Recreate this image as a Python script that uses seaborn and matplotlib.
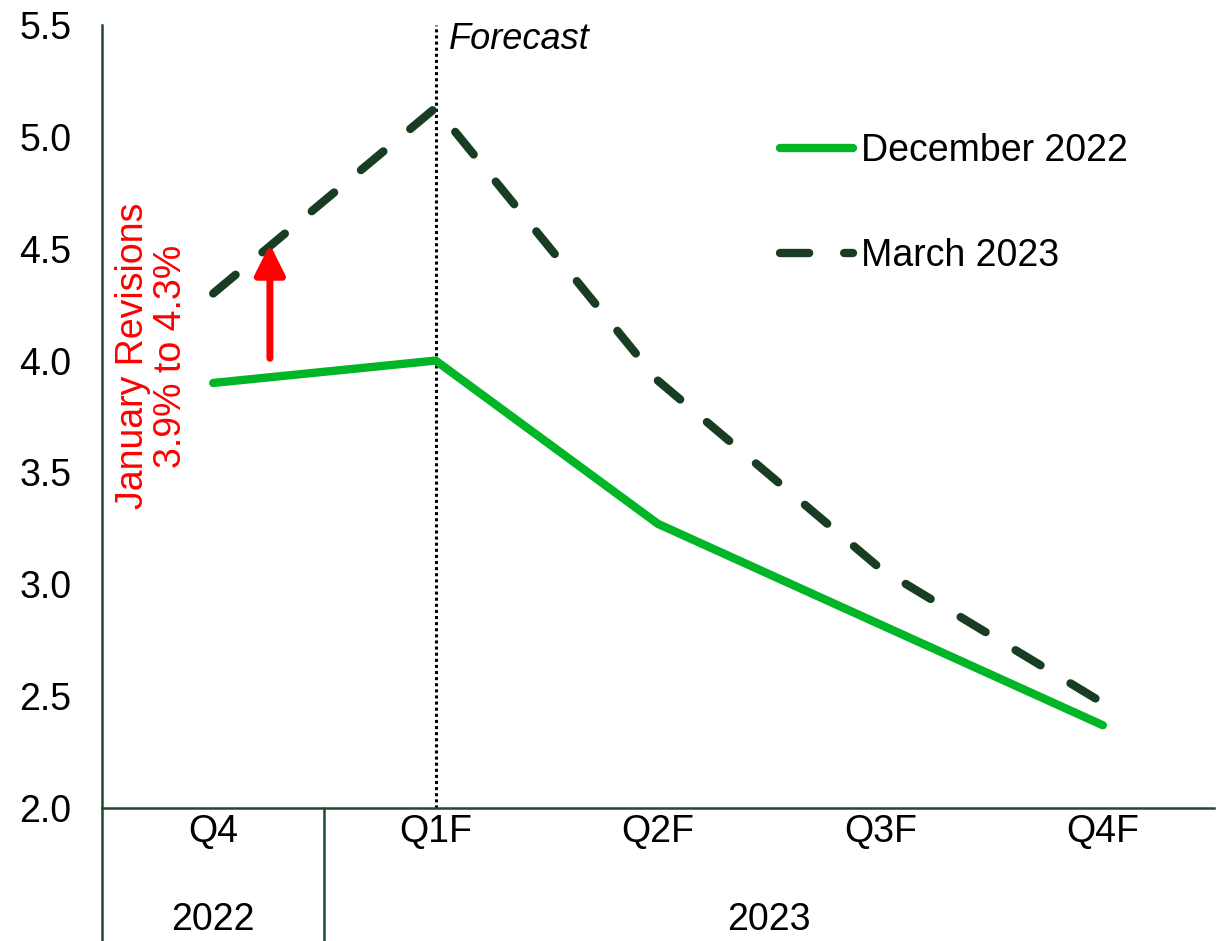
import matplotlib
matplotlib.use("Agg")
import matplotlib.pyplot as plt
import matplotlib.transforms as mtransforms
import seaborn as sns
import pandas as pd

# Quarterly growth path, two forecast vintages
quarters = ["Q4", "Q1F", "Q2F", "Q3F", "Q4F"]
year_groups = ["2022", "2023"]
year_spans = [(0, 0), (1, 4)]          # first and last quarter index in each year
dec_2022 = [3.9, 4.0, 3.27, 2.82, 2.37]
mar_2023 = [4.3, 5.13, 3.91, 3.07, 2.47]
series_names = ["December 2022", "March 2023"]
y_ticks = [2.0, 2.5, 3.0, 3.5, 4.0, 4.5, 5.0, 5.5]

sns.set_theme(style="white")
plt.rcParams["font.family"] = ["Liberation Sans", "DejaVu Sans"]
plt.rcParams["text.color"] = "black"

LIGHT = "#00B526"
DARK = "#183D22"
AXIS = "#1F4A2C"
FS = 27

df = pd.DataFrame({
    "quarter": quarters * 2,
    "value": dec_2022 + mar_2023,
    "series": [series_names[0]] * len(quarters) + [series_names[1]] * len(quarters),
})

W, H = 1226, 941
fig = plt.figure(figsize=(W / 100, H / 100), dpi=100)
ax = fig.add_axes([102 / W, 1 - 808 / H, (1214 - 102) / W, (808 - 25) / H])

sns.lineplot(
    data=df, x="quarter", y="value", hue="series", style="series",
    palette={series_names[0]: LIGHT, series_names[1]: DARK},
    dashes={series_names[0]: "", series_names[1]: (3.5, 4.2)},
    linewidth=6, sort=False, ax=ax, legend=True,
)
for ln in ax.get_lines():
    ln.set_dash_capstyle("round")
    ln.set_solid_capstyle("round")
    ln.set_solid_joinstyle("miter")

ax.set_xlim(-0.5, len(quarters) - 0.5)
ax.set_ylim(2.0, 5.5)
ax.set_yticks(y_ticks)
ax.set_yticklabels([f"{v:.1f}" for v in y_ticks])
ax.set_xlabel("")
ax.set_ylabel("")
ax.tick_params(axis="y", length=0, pad=22, labelsize=FS, colors="black")
ax.tick_params(axis="x", length=0, pad=4, labelsize=FS, colors="black")

for side in ["top", "right"]:
    ax.spines[side].set_visible(False)
for side in ["left", "bottom"]:
    ax.spines[side].set_color(AXIS)
    ax.spines[side].set_linewidth(1.8)

# Forecast divider
ax.axvline(1, color="black", linestyle=(0, (1, 1)), linewidth=2.2, zorder=1)
ax.text(1.06, 5.435, "Forecast", fontsize=FS - 1, style="italic",
        ha="left", va="center", color="black")

# Revision arrow and note
ax.annotate("", xy=(0.255, 4.52), xytext=(0.255, 4.01),
            arrowprops=dict(arrowstyle="-|>,head_length=0.7,head_width=0.35",
                            color="#FF0000", lw=5, mutation_scale=26,
                            shrinkA=0, shrinkB=0))
ax.text(-0.275, 4.02, "January Revisions\n3.9% to 4.3%", rotation=90,
        color="#FF0000", fontsize=FS, ha="center", va="center",
        multialignment="center", linespacing=1.05)

# Year row beneath the quarter labels, with separators
trans = mtransforms.blended_transform_factory(ax.transData, ax.transAxes)
bottom = -(H - 808) / (808 - 25) - 0.01
for (a, b) in [(-0.5, -0.5), (0.5, 0.5)]:
    ax.plot([a, b], [0, bottom], transform=trans, color=AXIS,
            linewidth=1.8, clip_on=False)
for label, (i0, i1) in zip(year_groups, year_spans):
    ax.text((i0 + i1) / 2, -112 / 783, label, transform=trans,
            fontsize=FS, ha="center", va="center", color="black")

# Legend
handles, labels = ax.get_legend_handles_labels()
for h in handles:
    h.set_dash_capstyle("round")
    h.set_solid_capstyle("round")
    h.set_linewidth(6)
leg = ax.legend(handles, labels, loc="upper left", frameon=False,
                fontsize=FS, handlelength=1.95, handletextpad=0.2,
                labelspacing=1.85, borderpad=0, borderaxespad=0,
                labelcolor="black",
                bbox_to_anchor=(780 / W, 1 - 133 / H),
                bbox_transform=fig.transFigure)

fig.savefig("out.png", dpi=100)
